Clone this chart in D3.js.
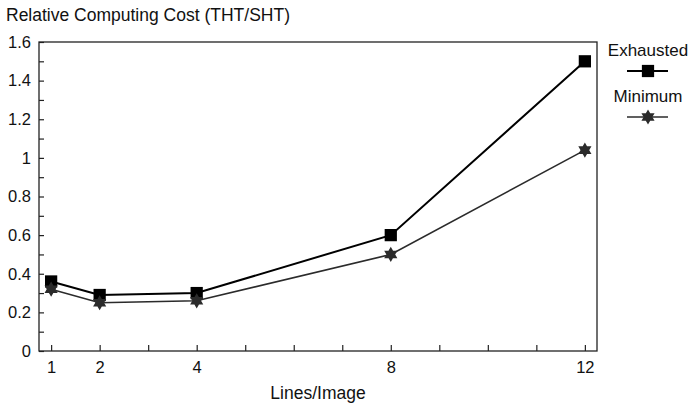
<!DOCTYPE html>
<html>
<head>
    <title>Relative Computing Cost</title>
    <script src="https://d3js.org/d3.v7.min.js"></script>
    <style>
        body { margin: 0; background: #fff; }
        svg text { font-family: 'Liberation Sans', Arial, sans-serif; fill: #111; }
        .axis path { display: none; }
        .axis line { stroke: #222; stroke-width: 1.2; }
        .axis text { font-size: 16.5px; }
    </style>
</head>
<body>
<div id="chart"></div>
<script>
    // data
    const linesPerImage = [1, 2, 4, 8, 12];
    const exhausted = [0.36, 0.29, 0.30, 0.60, 1.50];
    const minimum = [0.32, 0.25, 0.26, 0.50, 1.04];
    const xTickLabels = [1, 2, 4, 8, 12];
    const yTickLabels = [0, 0.2, 0.4, 0.6, 0.8, 1, 1.2, 1.4, 1.6];

    const width = 688, height = 407;
    const plot = { left: 39, right: 597, top: 42, bottom: 351 };

    const svg = d3.select('#chart').append('svg')
        .attr('width', width)
        .attr('height', height);

    const x = d3.scaleLinear().domain([0.75, 12.25]).range([plot.left, plot.right]);
    const y = d3.scaleLinear().domain([0, 1.6]).range([plot.bottom, plot.top]);

    // six pointed star for the "Minimum" markers
    const hexagram = {
        draw(ctx, size) {
            const r = Math.sqrt(size) * 0.62;
            for (let k = 0; k < 2; k++) {
                const off = k * Math.PI / 3;
                for (let i = 0; i < 3; i++) {
                    const a = off - Math.PI / 2 + i * 2 * Math.PI / 3;
                    if (i === 0) ctx.moveTo(r * Math.cos(a), r * Math.sin(a));
                    else ctx.lineTo(r * Math.cos(a), r * Math.sin(a));
                }
                ctx.closePath();
            }
        }
    };

    // axes, ticks pointing into the plot
    svg.append('g')
        .attr('class', 'axis')
        .attr('transform', `translate(${plot.left},0)`)
        .call(d3.axisLeft(y)
            .tickValues(d3.range(0, 17).map(i => i / 10))
            .tickSizeInner(-5)
            .tickSizeOuter(0)
            .tickPadding(8)
            .tickFormat(d => yTickLabels.some(v => Math.abs(v - d) < 1e-6) ? String(+d.toFixed(1)) : ''));

    svg.append('g')
        .attr('class', 'axis')
        .attr('transform', `translate(0,${plot.bottom})`)
        .call(d3.axisBottom(x)
            .tickValues(d3.range(1, 13))
            .tickSizeInner(-6)
            .tickSizeOuter(0)
            .tickPadding(10)
            .tickFormat(d => xTickLabels.includes(d) ? d : ''));

    // frame
    svg.append('rect')
        .attr('x', plot.left)
        .attr('y', plot.top)
        .attr('width', plot.right - plot.left)
        .attr('height', plot.bottom - plot.top)
        .attr('fill', 'none')
        .attr('stroke', '#222')
        .attr('stroke-width', 1.3);

    const series = [
        { name: 'Exhausted', values: exhausted, color: '#000', width: 2, symbol: d3.symbolSquare, size: 150 },
        { name: 'Minimum', values: minimum, color: '#2b2b2b', width: 1.6, symbol: hexagram, size: 150 }
    ];

    const line = d3.line()
        .x((d, i) => x(linesPerImage[i]))
        .y(d => y(d));

    series.forEach(s => {
        svg.append('path')
            .datum(s.values)
            .attr('fill', 'none')
            .attr('stroke', s.color)
            .attr('stroke-width', s.width)
            .attr('d', line);

        svg.selectAll(null)
            .data(s.values)
            .enter().append('path')
            .attr('transform', (d, i) => `translate(${x(linesPerImage[i])},${y(d)})`)
            .attr('d', d3.symbol().type(s.symbol).size(s.size))
            .attr('fill', s.color);
    });

    // legend at the right of the plot
    const legendX = 648;
    series.forEach((s, i) => {
        const top = 56 + i * 46;
        svg.append('text')
            .attr('x', legendX)
            .attr('y', top)
            .attr('text-anchor', 'middle')
            .style('font-size', '17px')
            .text(s.name);
        svg.append('line')
            .attr('x1', legendX - 21)
            .attr('x2', legendX + 20)
            .attr('y1', top + 15)
            .attr('y2', top + 15)
            .attr('stroke', s.color)
            .attr('stroke-width', s.width);
        svg.append('path')
            .attr('transform', `translate(${legendX},${top + 15})`)
            .attr('d', d3.symbol().type(s.symbol).size(s.size))
            .attr('fill', s.color);
    });

    // titles
    svg.append('text')
        .attr('x', 6)
        .attr('y', 21)
        .style('font-size', '17.5px')
        .text('Relative Computing Cost (THT/SHT)');

    svg.append('text')
        .attr('x', (plot.left + plot.right) / 2)
        .attr('y', 399)
        .attr('text-anchor', 'middle')
        .style('font-size', '17.5px')
        .text('Lines/Image');
</script>
</body>
</html>
